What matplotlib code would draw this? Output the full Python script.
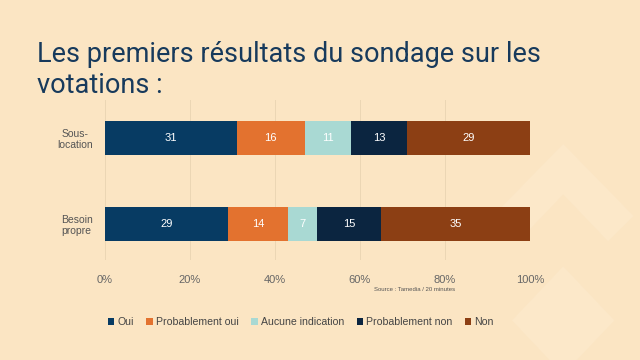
import matplotlib
matplotlib.use('Agg')

import matplotlib.pyplot as plt
import matplotlib.patches as patches
import numpy as np

plt.rcParams['font.family'] = ['Liberation Sans', 'DejaVu Sans']

# ── Data ──
categories = ["Sous-\nlocation", "Besoin\npropre"]
series = ["Oui", "Probablement oui", "Aucune indication", "Probablement non", "Non"]
values = {
    "Oui": [31, 29],
    "Probablement oui": [16, 14],
    "Aucune indication": [11, 7],
    "Probablement non": [13, 15],
    "Non": [29, 35],
}
colors = ["#073B63", "#E3722F", "#A9D9D3", "#0B2540", "#8C3F14"]
xticks = [0, 20, 40, 60, 80, 100]
title_lines = ["Les premiers résultats du sondage sur les", "votations :"]

BG = "#FBE5C3"

fig = plt.figure(figsize=(6.4, 3.6), dpi=100, facecolor=BG)

# faint watermark shapes bottom right
wm = "#FCE8C9"
chevron = patches.Polygon(
    [(0.77, 0.40), (0.88, 0.60), (0.99, 0.40), (0.95, 0.33), (0.88, 0.46), (0.81, 0.33)],
    closed=True, transform=fig.transFigure, facecolor=wm, edgecolor="none", zorder=-5)
diamond = patches.Polygon(
    [(0.80, 0.11), (0.88, 0.26), (0.96, 0.11), (0.88, -0.04)],
    closed=True, transform=fig.transFigure, facecolor=wm, edgecolor="none", zorder=-5)
fig.patches.extend([chevron, diamond])

ax = fig.add_axes([0.164, 0.278, 0.664, 0.444])
ax.set_facecolor("none")

y = np.arange(len(categories))
left = np.zeros(len(categories))
for name, col in zip(series, colors):
    vals = np.array(values[name])
    bars = ax.barh(y, vals, left=left, height=0.4, color=col, label=name, zorder=2)
    for b, v in zip(bars, vals):
        ax.text(b.get_x() + b.get_width() / 2, b.get_y() + b.get_height() / 2,
                str(v), ha="center", va="center", color="white", fontsize=8, zorder=3)
    left += vals

ax.set_xlim(0, 100)
ax.set_ylim(1.42, -0.44)
ax.set_xticks(xticks)
ax.set_xticklabels([f"{t}%" for t in xticks], fontsize=8, color="#666666")
ax.set_yticks(y)
ax.set_yticklabels(categories, fontsize=7.5, color="#555555", linespacing=1.2,
                   multialignment="center")
ax.tick_params(length=0, pad=11)
ax.tick_params(axis="y", pad=9)
ax.grid(axis="x", color="#EBD6B4", linewidth=0.7, zorder=0)
for s in ax.spines.values():
    s.set_visible(False)

# title, two lines placed on their baselines (62 px and 93 px from the top)
for line, ypx in zip(title_lines, [62, 93]):
    fig.text(0.058, 1 - ypx / 360, line, fontsize=19.5, color="#173A5C",
             ha="left", va="baseline", family=["Roboto", "DejaVu Sans"])

fig.text(0.711, 0.197, "Source : Tamedia / 20 minutes", fontsize=4.3,
         color="#555555", ha="right", va="center")

fig.legend(loc="center", bbox_to_anchor=(0.47, 0.105), ncol=5, frameon=False,
           fontsize=7.6, handlelength=0.6, handleheight=0.6, handletextpad=0.3,
           columnspacing=1.2, labelcolor="#444444")

fig.savefig("out.png", dpi=100, facecolor=BG)
